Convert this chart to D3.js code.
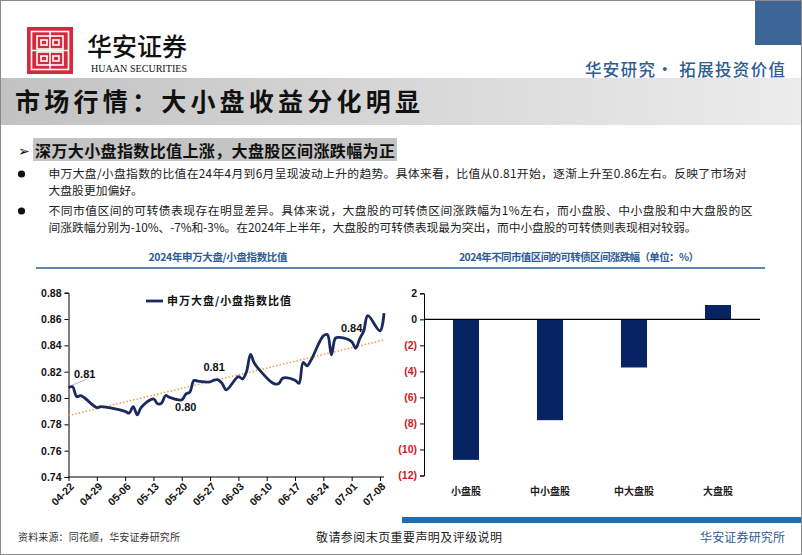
<!DOCTYPE html>
<html>
<head>
<meta charset="utf-8">
<script src="https://cdn.jsdelivr.net/npm/d3@7"></script>
<style>
  html, body { margin: 0; padding: 0; background: #fff; }
  svg { display: block; }
  text { font-family: "Noto Sans CJK SC", "Noto Sans", sans-serif; }
  .num { font-family: "Liberation Sans", Arial, sans-serif; font-weight: bold; }
</style>
</head>
<body>
<svg id="slide" width="802" height="555"></svg>
<script>
// ---------------- DATA ----------------
const lineDates = ["2024-04-22","2024-04-23","2024-04-24","2024-04-25","2024-04-26","2024-04-29","2024-04-30",
  "2024-05-06","2024-05-07","2024-05-08","2024-05-09","2024-05-10","2024-05-13","2024-05-14","2024-05-15",
  "2024-05-16","2024-05-17","2024-05-20","2024-05-21","2024-05-22","2024-05-23","2024-05-24","2024-05-27",
  "2024-05-28","2024-05-29","2024-05-30","2024-05-31","2024-06-03","2024-06-04","2024-06-05","2024-06-06",
  "2024-06-07","2024-06-11","2024-06-12","2024-06-13","2024-06-14","2024-06-17","2024-06-18","2024-06-19",
  "2024-06-20","2024-06-21","2024-06-24","2024-06-25","2024-06-26","2024-06-27","2024-06-28","2024-07-01",
  "2024-07-02","2024-07-03","2024-07-04","2024-07-05","2024-07-08","2024-07-09"];
const ratioValues = [0.8080,0.8085,0.8012,0.8018,0.8000,0.7928,0.7935,
  0.7898,0.7885,0.7935,0.7872,0.7930,0.7994,0.7956,0.7962,
  0.8019,0.8005,0.7986,0.8030,0.8045,0.8133,0.8128,0.8122,
  0.8136,0.8138,0.8110,0.8062,0.8163,0.8145,0.8200,0.8332,
  0.8262,0.8125,0.8108,0.8110,0.8151,0.8135,0.8112,0.8270,
  0.8245,0.8290,0.8472,0.8482,0.8328,0.8455,0.8460,0.8428,
  0.8378,0.8450,0.8510,0.8625,0.8510,0.8645];
const trendDates = ["2024-04-22","2024-07-09"];
const trendValues = [0.7867, 0.8441];
const lineYTicks = [0.74,0.76,0.78,0.80,0.82,0.84,0.86,0.88];
const lineXTicks = ["2024-04-22","2024-04-29","2024-05-06","2024-05-13","2024-05-20","2024-05-27",
  "2024-06-03","2024-06-10","2024-06-17","2024-06-24","2024-07-01","2024-07-08"];
const annoDates = ["2024-04-26","2024-05-21","2024-05-28","2024-07-01"];
const annoValues = [0.8183, 0.7928, 0.8236, 0.8530];
const annoTexts = ["0.81","0.80","0.81","0.84"];
const lineLegend = "申万大盘/小盘指数比值";

const barCategories = ["小盘股","中小盘股","中大盘股","大盘股"];
const barValues = [-10.8, -7.75, -3.7, 1.1];
const barYTicks = [2,0,-2,-4,-6,-8,-10,-12];

const mainTitle = "市场行情：大小盘收益分化明显";
const subTitle = "深万大小盘指数比值上涨，大盘股区间涨跌幅为正";
const bulletLines = [
  "申万大盘/小盘指数的比值在24年4月到6月呈现波动上升的趋势。具体来看，比值从0.81开始，逐渐上升至0.86左右。反映了市场对",
  "大盘股更加偏好。",
  "不同市值区间的可转债表现存在明显差异。具体来说，大盘股的可转债区间涨跌幅为1%左右，而小盘股、中小盘股和中大盘股的区",
  "间涨跌幅分别为-10%、-7%和-3%。在2024年上半年，大盘股的可转债表现最为突出，而中小盘股的可转债则表现相对较弱。"
];
const chartTitles = ["2024年申万大盘/小盘指数比值","2024年不同市值区间的可转债区间涨跌幅（单位：%）"];

// ---------------- DRAW ----------------
const svg = d3.select("#slide");
const parse = d3.timeParse("%Y-%m-%d");
const navy = "#1b2a5e";
const blue = "#2e5c94";

// defs
const defs = svg.append("defs");
const grad = defs.append("linearGradient").attr("id","titleGrad").attr("x1","0").attr("x2","1");
grad.append("stop").attr("offset","0%").attr("stop-color","#c2c2c2");
grad.append("stop").attr("offset","100%").attr("stop-color","#ececec");

// top-right block
svg.append("rect").attr("x",755).attr("y",0).attr("width",47).attr("height",45).attr("fill","#3d6597");

// logo
const logo = svg.append("g");
logo.append("rect").attr("x",27).attr("y",27).attr("width",46).attr("height",47).attr("fill","#d62a3c");
logo.append("rect").attr("x",31.5).attr("y",31.5).attr("width",37).attr("height",38)
  .attr("fill","none").attr("stroke","#fff").attr("stroke-width",1.6);
const lw = 1.6;
[[37,36,26,13],[37,52,26,13]].forEach(([x,y,w,h]) => {
  logo.append("rect").attr("x",x).attr("y",y).attr("width",w).attr("height",h)
    .attr("fill","none").attr("stroke","#fff").attr("stroke-width",lw);
  logo.append("rect").attr("x",x+4).attr("y",y+4).attr("width",6).attr("height",5)
    .attr("fill","none").attr("stroke","#fff").attr("stroke-width",lw);
  logo.append("rect").attr("x",x+w-10).attr("y",y+4).attr("width",6).attr("height",5)
    .attr("fill","none").attr("stroke","#fff").attr("stroke-width",lw);
});
logo.append("line").attr("x1",50).attr("x2",50).attr("y1",32).attr("y2",69)
  .attr("stroke","#fff").attr("stroke-width",lw);
logo.append("line").attr("x1",32).attr("x2",68).attr("y1",50.5).attr("y2",50.5)
  .attr("stroke","#fff").attr("stroke-width",lw);

svg.append("text").attr("x",87).attr("y",56).attr("font-size",25).attr("font-weight",500)
  .attr("textLength",100).attr("fill","#111").text("华安证券");
svg.append("text").attr("x",91).attr("y",71.7).attr("font-size",10.5)
  .style("font-family","'Liberation Serif', serif").attr("textLength",96).attr("lengthAdjust","spacingAndGlyphs")
  .attr("fill","#111").text("HUAAN SECURITIES");

svg.append("text").attr("x",585).attr("y",76).attr("font-size",16.5).attr("font-weight",500)
  .attr("textLength",200).attr("fill",blue).text("华安研究• 拓展投资价值");

// title band
svg.append("rect").attr("x",0).attr("y",78).attr("width",802).attr("height",47).attr("fill","url(#titleGrad)");
svg.append("text").attr("x",15).attr("y",111).attr("font-size",25).attr("font-weight",700)
  .attr("textLength",405).attr("fill","#111").text(mainTitle);

// subtitle
svg.append("rect").attr("x",33).attr("y",138).attr("width",364).attr("height",23).attr("fill","#c4c4c4");
svg.append("text").attr("x",18).attr("y",156).attr("font-size",14).attr("fill","#111").text("➢");
svg.append("text").attr("x",35).attr("y",156.5).attr("font-size",16).attr("font-weight",700)
  .attr("textLength",360).attr("fill","#111").text(subTitle);

// bullets
const bulletY = [178, 195, 215, 232];
const bulletLen = [698, null, 704, 648];
bulletLines.forEach((t,i) => {
  const tx = svg.append("text").attr("x",48.5).attr("y",bulletY[i]).attr("font-size",11.8)
    .attr("fill","#222").text(t);
  if (bulletLen[i]) tx.attr("textLength",bulletLen[i]);
});
[178, 215].forEach(y => {
  svg.append("circle").attr("cx",21.5).attr("cy",y-4).attr("r",3.6).attr("fill","#111");
});

// chart titles + rule
svg.append("text").attr("x",218).attr("y",261).attr("text-anchor","middle").attr("font-size",10.5)
  .attr("font-weight",700).attr("textLength",139).attr("fill",blue).text(chartTitles[0]);
svg.append("text").attr("x",579).attr("y",261).attr("text-anchor","middle").attr("font-size",10.5)
  .attr("font-weight",700).attr("textLength",240).attr("fill",blue).text(chartTitles[1]);
svg.append("line").attr("x1",36).attr("x2",765).attr("y1",268).attr("y2",268)
  .attr("stroke","#5b86b8").attr("stroke-width",1.8);

// ---------- line chart ----------
const xL = d3.scaleTime().domain([parse(lineDates[0]), parse(lineDates[lineDates.length-1])]).range([68.5, 384]);
const yL = d3.scaleLinear().domain([0.74, 0.88]).range([477, 292.7]);

const gYL = svg.append("g").attr("transform","translate(68.5,0)")
  .call(d3.axisLeft(yL).tickValues(lineYTicks).tickFormat(d3.format(".2f")).tickSize(4).tickPadding(3));
const gXL = svg.append("g").attr("transform","translate(0,477)")
  .call(d3.axisBottom(xL).tickValues(lineXTicks.map(parse)).tickFormat(d3.timeFormat("%m-%d")).tickSize(4).tickPadding(2));
gXL.selectAll("text").attr("text-anchor","end").attr("transform","rotate(-45)").attr("dx","-0.3em").attr("dy","0.5em");
[gYL, gXL].forEach(g => {
  g.select(".domain").attr("stroke","#000").attr("stroke-width",1);
  g.selectAll(".tick line").attr("stroke","#000");
  g.selectAll("text").attr("class","num").attr("font-size",10.5).attr("fill","#111");
});
gXL.select(".domain").attr("d","M68.5,0H384");

// trend line
svg.append("path")
  .datum(trendDates.map((d,i) => [parse(d), trendValues[i]]))
  .attr("d", d3.line().x(d => xL(d[0])).y(d => yL(d[1])))
  .attr("fill","none").attr("stroke","#eb9a45").attr("stroke-width",1.5)
  .attr("stroke-dasharray","1.5,2");

// leader for first annotation
svg.append("line").attr("x1",xL(parse(lineDates[0]))+3).attr("y1",yL(ratioValues[0])-2)
  .attr("x2",86).attr("y2",379.5).attr("stroke","#a0a0a0").attr("stroke-width",0.8);

// series
svg.append("path")
  .datum(lineDates.map((d,i) => [parse(d), ratioValues[i]]))
  .attr("d", d3.line().x(d => xL(d[0])).y(d => yL(d[1])).curve(d3.curveCatmullRom.alpha(0.5)))
  .attr("fill","none").attr("stroke",navy).attr("stroke-width",2.8).attr("stroke-linejoin","round");

// annotations
annoTexts.forEach((t,i) => {
  svg.append("text").attr("class","num").attr("x",xL(parse(annoDates[i]))).attr("y",yL(annoValues[i]))
    .attr("dy","0.35em").attr("text-anchor","middle").attr("font-size",11).attr("fill","#111").text(t);
});

// legend
svg.append("line").attr("x1",146).attr("x2",163).attr("y1",301).attr("y2",301)
  .attr("stroke",navy).attr("stroke-width",2.8);
svg.append("text").attr("x",167).attr("y",305).attr("font-size",11).attr("font-weight",700)
  .attr("textLength",124).attr("fill","#111").text(lineLegend);

// ---------- bar chart ----------
const xB = d3.scaleBand().domain(barCategories).range([424, 760]).paddingInner(0.69).paddingOuter(0.345);
const yB = d3.scaleLinear().domain([-12, 2]).range([475.5, 293.3]);

svg.append("g").selectAll("rect").data(barCategories).join("rect")
  .attr("x", d => xB(d))
  .attr("width", xB.bandwidth())
  .attr("y", (d,i) => yB(Math.max(0, barValues[i])))
  .attr("height", (d,i) => Math.abs(yB(barValues[i]) - yB(0)))
  .attr("fill","#062464");

const gYB = svg.append("g").attr("transform","translate(424,0)")
  .call(d3.axisLeft(yB).tickValues(barYTicks).tickSize(4).tickPadding(3)
    .tickFormat(d => d < 0 ? "(" + Math.abs(d) + ")" : String(d)));
gYB.select(".domain").attr("stroke","#000");
gYB.selectAll(".tick line").attr("stroke","#000");
gYB.selectAll("text").attr("class","num").attr("font-size",10.5)
  .attr("fill", d => d < 0 ? "#d0182a" : "#111");

// zero line
svg.append("line").attr("x1",424).attr("x2",760).attr("y1",yB(0)).attr("y2",yB(0))
  .attr("stroke","#000").attr("stroke-width",1.2);

// category labels
svg.append("g").selectAll("text").data(barCategories).join("text")
  .attr("x", d => xB(d) + xB.bandwidth()/2).attr("y", 494.5)
  .attr("text-anchor","middle").attr("font-size",10).attr("font-weight",700).attr("fill","#222")
  .text(d => d);

// ---------- footer ----------
svg.append("rect").attr("x",402).attr("y",517).attr("width",400).attr("height",6).attr("fill","#1f6db0");
svg.append("text").attr("x",18).attr("y",541).attr("font-size",10).attr("textLength",162)
  .attr("fill","#333").text("资料来源：同花顺，华安证券研究所");
svg.append("text").attr("x",316).attr("y",542).attr("font-size",12).attr("textLength",186)
  .attr("fill","#222").text("敬请参阅末页重要声明及评级说明");
svg.append("text").attr("x",700).attr("y",542).attr("font-size",12).attr("textLength",85)
  .attr("fill",blue).text("华安证券研究所");

// frame
svg.append("rect").attr("x",0.5).attr("y",0.5).attr("width",801).attr("height",554)
  .attr("fill","none").attr("stroke","#8a8a8a").attr("stroke-width",1);
</script>
</body>
</html>
